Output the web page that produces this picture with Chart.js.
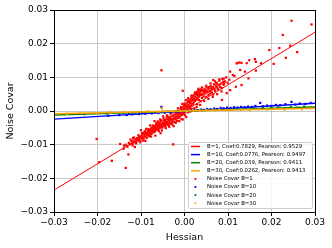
<!DOCTYPE html>
<html><head><meta charset="utf-8">
<script src="https://cdn.jsdelivr.net/npm/chart.js@4/dist/chart.umd.min.js"></script>
<style>html,body{margin:0;padding:0;background:#fff;}canvas{display:block;}</style>
</head><body>
<canvas id="c" width="332" height="248"></canvas>
<script>
// ---- data ----
const xTicks = [-0.03, -0.02, -0.01, 0.00, 0.01, 0.02, 0.03];
const yTicks = [-0.03, -0.02, -0.01, 0.00, 0.01, 0.02, 0.03];
const xTitle = 'Hessian';
const yTitle = 'Noise Covar';

const lineLabels = ['B=1, Coef:0.7829, Pearson: 0.9529','B=10, Coef:0.0776, Pearson: 0.9497','B=20, Coef:0.039, Pearson: 0.9411','B=30, Coef:0.0262, Pearson: 0.9413'];
const scatterLabels = ['Noise Covar B=1','Noise Covar B=10','Noise Covar B=20','Noise Covar B=30'];
const fitX = [-0.03, 0.03];
const fitRed = [-0.0235, 0.0234];
const fitBlue = [-0.0024, 0.0023];
const fitGreen = [-0.0012, 0.0012];
const fitOrange = [-0.0008, 0.0008];

const redPts = [
[-0.0140,-0.0112],[-0.0135,-0.0100],[-0.0131,-0.0106],[-0.0128,-0.0095],[-0.0125,-0.0099],[-0.0122,-0.0090],[-0.0120,-0.0097],[-0.0118,-0.0088],[-0.0116,-0.0093],[-0.0113,-0.0084],[-0.0111,-0.0091],[-0.0109,-0.0082],[-0.0107,-0.0087],[-0.0105,-0.0078],[-0.0103,-0.0085],[-0.0101,-0.0075],[-0.0099,-0.0081],[-0.0097,-0.0072],[-0.0095,-0.0079],[-0.0093,-0.0068],[-0.0091,-0.0076],[-0.0089,-0.0066],[-0.0087,-0.0073],[-0.0085,-0.0062],[-0.0083,-0.0070],[-0.0081,-0.0059],
[-0.0080,-0.0066],[-0.0079,-0.0055],[-0.0078,-0.0061],[-0.0076,-0.0050],[-0.0075,-0.0058],[-0.0074,-0.0064],[-0.0072,-0.0053],[-0.0071,-0.0047],[-0.0070,-0.0059],[-0.0068,-0.0050],[-0.0067,-0.0044],[-0.0066,-0.0056],[-0.0065,-0.0038],[-0.0064,-0.0049],[-0.0062,-0.0053],[-0.0061,-0.0042],[-0.0060,-0.0047],[-0.0058,-0.0036],[-0.0057,-0.0051],[-0.0056,-0.0043],[-0.0055,-0.0031],[-0.0054,-0.0046],[-0.0052,-0.0039],[-0.0051,-0.0048],[-0.0050,-0.0034],[-0.0049,-0.0041],[-0.0047,-0.0028],[-0.0046,-0.0044],[-0.0045,-0.0036],[-0.0044,-0.0030],[-0.0042,-0.0039],[-0.0041,-0.0024],[-0.0040,-0.0033],[-0.0038,-0.0041],[-0.0037,-0.0027],[-0.0036,-0.0020],[-0.0035,-0.0035],[-0.0033,-0.0029],[-0.0032,-0.0017],[-0.0031,-0.0038],[-0.0030,-0.0024],[-0.0028,-0.0031],[-0.0027,-0.0014],[-0.0026,-0.0026],[-0.0024,-0.0020],[-0.0023,-0.0033],[-0.0022,-0.0011],[-0.0021,-0.0024],[-0.0019,-0.0017],[-0.0018,-0.0029],
[-0.0017,-0.0008],[-0.0016,-0.0021],[-0.0015,-0.0013],[-0.0013,-0.0004],[-0.0012,-0.0018],[-0.0011,-0.0009],[-0.0010,0.0002],[-0.0009,-0.0014],[-0.0008,-0.0005],[-0.0007,0.0006],[-0.0006,-0.0011],[-0.0005,-0.0001],[-0.0004,0.0010],[-0.0003,-0.0007],[-0.0002,0.0003],[-0.0001,0.0014],[0.0000,-0.0004],[0.0001,0.0007],[0.0002,0.0018],[0.0003,0.0000],[0.0004,0.0011],[0.0005,0.0022],[0.0006,0.0004],[0.0007,0.0015],[0.0008,0.0027],[0.0009,0.0008],[0.0010,0.0019],[0.0011,0.0031],[0.0012,0.0012],[0.0013,0.0024],[0.0014,0.0036],[0.0015,0.0016],[0.0016,0.0029],[0.0017,0.0040],[0.0018,0.0021],[0.0019,0.0033],[0.0020,0.0045],[0.0021,0.0025],[0.0022,0.0037],[0.0023,0.0049],[0.0024,0.0030],[0.0025,0.0042],[0.0026,0.0053],[0.0027,0.0034],[0.0028,0.0046],[0.0029,0.0057],[0.0030,0.0038],[0.0031,0.0050],[0.0032,0.0061],[0.0033,0.0043],[0.0034,0.0054],[0.0036,0.0047],[0.0037,0.0058],[0.0038,0.0064],[0.0039,0.0051],[0.0040,0.0039],
[0.0042,0.0060],[0.0043,0.0049],[0.0045,0.0055],[0.0046,0.0066],[0.0048,0.0052],[0.0049,0.0061],[0.0051,0.0070],[0.0052,0.0057],[0.0054,0.0064],[0.0055,0.0048],[0.0057,0.0068],[0.0058,0.0059],[0.0060,0.0074],[0.0062,0.0063],[0.0063,0.0055],[0.0065,0.0071],[0.0067,0.0066],[0.0068,0.0079],[0.0070,0.0060],[0.0072,0.0073],[0.0074,0.0084],[0.0076,0.0067],[0.0078,0.0077],[0.0080,0.0090],[0.0082,0.0071],[0.0085,0.0082],[0.0087,0.0095],[0.0090,0.0078],[0.0093,0.0088],[0.0096,0.0100],[0.0099,0.0084],[0.0103,0.0093],
[-0.0118,-0.0080],[-0.0114,-0.0107],[-0.0109,-0.0081],[-0.0104,-0.0088],[-0.0100,-0.0057],[-0.0096,-0.0088],[-0.0093,-0.0064],[-0.0090,-0.0089],[-0.0088,-0.0053],[-0.0086,-0.0069],[-0.0084,-0.0059],[-0.0082,-0.0075],[-0.0079,-0.0043],[-0.0077,-0.0076],[-0.0075,-0.0056],[-0.0073,-0.0043],[-0.0071,-0.0063],[-0.0069,-0.0030],[-0.0067,-0.0073],[-0.0065,-0.0041],[-0.0063,-0.0053],[-0.0061,-0.0031],[-0.0059,-0.0060],[-0.0057,-0.0038],[-0.0055,-0.0066],[-0.0053,-0.0028],[-0.0051,-0.0049],[-0.0049,-0.0016],[-0.0047,-0.0040],[-0.0045,-0.0027],[-0.0043,-0.0051],[-0.0041,-0.0017],[-0.0039,-0.0036],[-0.0037,-0.0018],[-0.0035,-0.0047],[-0.0033,-0.0024],[-0.0031,-0.0005],[-0.0029,-0.0035],[-0.0027,-0.0014],[-0.0025,-0.0045],[-0.0023,-0.0002],[-0.0021,-0.0021],[-0.0019,-0.0006],[-0.0017,-0.0029],[-0.0015,0.0008],[-0.0013,-0.0020],[-0.0011,-0.0005],[-0.0009,0.0006],[-0.0007,-0.0024],[-0.0005,0.0021],[-0.0003,-0.0009],[-0.0001,0.0017],[0.0001,-0.0012],[0.0003,0.0032],[0.0005,0.0012],[0.0007,-0.0004],[0.0009,0.0031],[0.0011,0.0010],[0.0013,0.0025],[0.0015,0.0006],[0.0017,0.0041],[0.0019,0.0020],[0.0021,0.0035],[0.0023,0.0008],[0.0025,0.0051],[0.0027,0.0033],[0.0029,0.0020],[0.0031,0.0047],[0.0033,0.0033],[0.0035,0.0062],[0.0037,0.0029],[0.0039,0.0048],[0.0041,0.0061],[0.0044,0.0043],[0.0047,0.0059],[0.0050,0.0042],[0.0053,0.0056],[0.0056,0.0071],[0.0059,0.0052],[0.0062,0.0067],[0.0066,0.0049],[0.0069,0.0066],[0.0073,0.0081],[0.0077,0.0064],[0.0081,0.0079],[0.0086,0.0068],[0.0091,0.0082],
[-0.0124,-0.0085],[-0.0119,-0.0102],[-0.0116,-0.0079],[-0.0111,-0.0096],[-0.0106,-0.0072],[-0.0102,-0.0093],[-0.0098,-0.0066],[-0.0094,-0.0084],[-0.0091,-0.0060],[-0.0087,-0.0080],[-0.0083,-0.0054],[-0.0080,-0.0073],[-0.0076,-0.0068],[-0.0072,-0.0046],[-0.0068,-0.0061],[-0.0064,-0.0035],[-0.0060,-0.0056],[-0.0056,-0.0025],[-0.0052,-0.0058],[-0.0048,-0.0022],[-0.0044,-0.0045],[-0.0040,-0.0013],[-0.0036,-0.0043],[-0.0032,-0.0008],[-0.0028,-0.0040],[-0.0024,-0.0004],[-0.0020,-0.0035],[-0.0016,0.0000],[-0.0012,-0.0030],[-0.0008,0.0012],[-0.0004,-0.0025],[0.0000,0.0022],[0.0004,-0.0018],[0.0008,0.0038],[0.0012,-0.0002],[0.0016,0.0046],[0.0020,0.0005],[0.0024,0.0055],[0.0028,0.0012],[0.0032,0.0066],[0.0036,0.0018],[0.0040,0.0070],[0.0045,0.0030],[0.0050,0.0075],[0.0055,0.0036],[0.0060,0.0082],[0.0065,0.0042],[0.0070,0.0088],[0.0075,0.0050],[0.0080,0.0094],[0.0085,0.0058],[0.0090,0.0096],
[0.0246,0.0268],[0.0292,0.0257],[0.0226,0.0226],[0.0259,0.0175],[0.0233,0.0158],[0.0205,0.0140],[0.0195,0.0181],[0.0218,0.0187],[0.0243,0.0194],[0.0162,0.0154],[0.0164,0.0146],[0.0164,0.0120],[0.0143,0.0142],[0.0176,0.0142],[0.0149,0.0151],[0.0120,0.0142],[0.0131,0.0143],[0.0128,0.0122],[0.0139,0.0117],[0.0147,0.0097],[0.0105,0.0117],[0.0111,0.0107],[0.0131,0.0077],[0.0118,0.0072],[0.0105,0.0062],[0.0097,0.0053],[0.0086,0.0033],[0.0066,0.0092],[0.0074,0.0072],[0.0089,0.0087],[0.0121,0.0142],[0.0126,0.0144],[0.0115,0.0104],
[-0.0053,0.0121],[-0.0202,-0.0083],[-0.0196,-0.0152],[-0.0167,-0.0148],[-0.0148,-0.0098],[-0.0135,-0.0169],[-0.0129,-0.0129],[-0.0139,-0.0103],[-0.0026,-0.0099],[-0.0004,0.0060]
];
const bluePts = [
[-0.0175,-0.0014],[-0.0150,-0.0012],[-0.0133,-0.0012],[-0.0128,-0.0008],[-0.0120,-0.0010],[-0.0112,-0.0007],[-0.0105,-0.0009],[-0.0098,-0.0006],[-0.0090,-0.0008],[-0.0082,-0.0005],[-0.0075,-0.0007],[-0.0068,-0.0004],[-0.0060,-0.0006],[-0.0053,0.0012],[-0.0050,-0.0003],[-0.0045,-0.0005],[-0.0038,-0.0002],[-0.0030,-0.0004],[-0.0022,-0.0001],[-0.0015,-0.0002],[-0.0008,0.0000],[0.0000,-0.0001],[0.0008,0.0001],[0.0015,0.0000],[0.0022,0.0003],[0.0030,0.0002],[0.0038,0.0004],[0.0045,0.0003],[0.0052,0.0006],[0.0060,0.0005],[0.0068,0.0007],[0.0075,0.0006],[0.0083,0.0009],[0.0090,0.0008],[0.0098,0.0010],[0.0106,0.0009],[0.0114,0.0011],[0.0122,0.0010],[0.0130,0.0012],[0.0138,0.0011],[0.0146,0.0013],[0.0155,0.0012],[0.0163,0.0015],[0.0174,0.0024],[0.0180,0.0014],[0.0190,0.0016],[0.0200,0.0015],[0.0210,0.0018],[0.0220,0.0017],[0.0232,0.0020],[0.0246,0.0027],[0.0255,0.0019],[0.0265,0.0022],[0.0278,0.0021],[0.0290,0.0024]
];
const greenPts = [
[-0.0230,-0.0009],[-0.0180,-0.0007],[-0.0140,-0.0006],[-0.0110,-0.0004],[-0.0080,-0.0003],[-0.0050,-0.0002],[-0.0020,-0.0001],[0.0010,0.0000],[0.0040,0.0002],[0.0070,0.0003],[0.0100,0.0004],[0.0130,0.0005],[0.0160,0.0007],[0.0180,0.0009],[0.0200,0.0008],[0.0215,0.0011],[0.0230,0.0009],[0.0245,0.0012],[0.0260,0.0010],[0.0275,0.0013],[0.0290,0.0011]
];
const orangePts = [
[-0.0270,-0.0008],[-0.0240,-0.0006],[-0.0202,-0.0007],[-0.0170,-0.0004],[-0.0140,-0.0003],[-0.0110,-0.0003],[-0.0085,-0.0001],[-0.0060,-0.0002],[-0.0052,0.0008],[-0.0040,0.0000],[-0.0025,-0.0001],[-0.0010,0.0001],[0.0005,0.0000],[0.0020,0.0002],[0.0035,0.0001],[0.0050,0.0003],[0.0065,0.0002],[0.0080,0.0004],[0.0095,0.0002],[0.0110,0.0003],[0.0130,0.0004],[0.0150,0.0003],[0.0170,0.0005],[0.0190,0.0004],[0.0210,0.0006],[0.0230,0.0004],[0.0250,0.0007],[0.0270,0.0005],[0.0290,0.0008]
];

// ---- styling ----
const colors = ['#ff0000', '#0000ff', '#008000', '#ffa500'];
const FONT = 'DejaVu Sans';

const toPts = a => a.map(p => ({x: p[0], y: p[1]}));
const fitPts = ys => fitX.map((x, i) => ({x: x, y: ys[i]}));
const fits = [fitRed, fitBlue, fitGreen, fitOrange];
const scat = [redPts, bluePts, greenPts, orangePts];

// draw order: dataset 0 on top
const datasets = [];
for (let k = 3; k >= 0; k--) {
  datasets.push({
    label: lineLabels[k], type: 'line', data: fitPts(fits[k]),
    borderColor: colors[k], borderWidth: k === 0 ? 1 : 1.4, pointRadius: 0, fill: false, tension: 0
  });
  datasets.push({
    label: scatterLabels[k], type: 'scatter', data: toPts(scat[k]),
    backgroundColor: colors[k], borderWidth: 0, pointRadius: 1.6, pointStyle: 'rect'
  });
}

function fmt(v) {
  if (Math.abs(v) < 1e-9) return '0.00';
  return v.toFixed(2).replace('-', '\u2212');
}

const framePlugin = {
  id: 'frame',
  afterDatasetsDraw(chart) {
    const a = chart.chartArea, ctx = chart.ctx;
    ctx.save();
    ctx.strokeStyle = '#000';
    ctx.lineWidth = 1;
    ctx.strokeRect(Math.round(a.left) + 0.5, Math.round(a.top) + 0.5, Math.round(a.right - a.left), Math.round(a.bottom - a.top));
    ctx.restore();
  }
};

const legendPlugin = {
  id: 'mplLegend',
  afterDraw(chart) {
    const a = chart.chartArea, ctx = chart.ctx;
    const right = a.right - 3, bottom = a.bottom - 4;
    const w = 124, h = 66;
    const left = right - w, top = bottom - h;
    ctx.save();
    ctx.fillStyle = 'rgba(255,255,255,0.85)';
    ctx.strokeStyle = '#cccccc';
    ctx.lineWidth = 1;
    ctx.beginPath();
    ctx.roundRect(left + 0.5, top + 0.5, w, h, 2);
    ctx.fill();
    ctx.stroke();
    ctx.font = '5.4px "' + FONT + '"';
    ctx.textBaseline = 'middle';
    ctx.textAlign = 'left';
    const items = [];
    for (let k = 0; k < 4; k++) items.push({t: lineLabels[k], c: colors[k], line: true});
    for (let k = 0; k < 4; k++) items.push({t: scatterLabels[k], c: colors[k], line: false});
    const step = 8.1;
    items.forEach((it, i) => {
      const y = top + 4.5 + i * step;
      if (it.line) {
        ctx.strokeStyle = it.c; ctx.lineWidth = 1.5;
        ctx.beginPath(); ctx.moveTo(left + 3, y); ctx.lineTo(left + 12, y); ctx.stroke();
      } else {
        ctx.fillStyle = it.c;
        ctx.fillRect(left + 6.5, y - 0.9, 1.8, 1.8);
      }
      ctx.fillStyle = '#000';
      ctx.fillText(it.t, left + 19, y);
    });
    ctx.restore();
  }
};

const tickFont = {family: FONT, size: 9};
const titleFont = {family: FONT, size: 9.5};

new Chart(document.getElementById('c').getContext('2d'), {
  type: 'scatter',
  data: {datasets: datasets},
  options: {
    responsive: false, animation: false, devicePixelRatio: 1,
    layout: {padding: {top: 10, right: 17, left: 0, bottom: 0}},
    plugins: {legend: {display: false}, tooltip: {enabled: false}},
    scales: {
      x: {
        type: 'linear', min: xTicks[0], max: xTicks[xTicks.length - 1],
        afterBuildTicks(s) { s.ticks = xTicks.map(v => ({value: v})); },
        afterFit(s) { s.height = 36; },
        ticks: {font: tickFont, color: '#000', padding: 1, callback: v => fmt(v), maxRotation: 0, autoSkip: false},
        grid: {color: '#c8c8c8', lineWidth: 1, drawTicks: true, tickLength: 4, tickColor: '#000', tickWidth: 1},
        border: {display: false},
        title: {display: true, text: xTitle, font: titleFont, color: '#000', padding: {top: 2, bottom: 5}}
      },
      y: {
        type: 'linear', min: yTicks[0], max: yTicks[yTicks.length - 1],
        afterBuildTicks(s) { s.ticks = yTicks.map(v => ({value: v})); },
        afterFit(s) { s.width = 54; },
        ticks: {font: tickFont, color: '#000', padding: 2, callback: v => fmt(v), autoSkip: false},
        grid: {color: '#c8c8c8', lineWidth: 1, drawTicks: true, tickLength: 4, tickColor: '#000', tickWidth: 1},
        border: {display: false},
        title: {display: true, text: yTitle, font: titleFont, color: '#000', padding: {top: 5, bottom: 2}}
      }
    }
  },
  plugins: [framePlugin, legendPlugin]
});
</script>
</body></html>
